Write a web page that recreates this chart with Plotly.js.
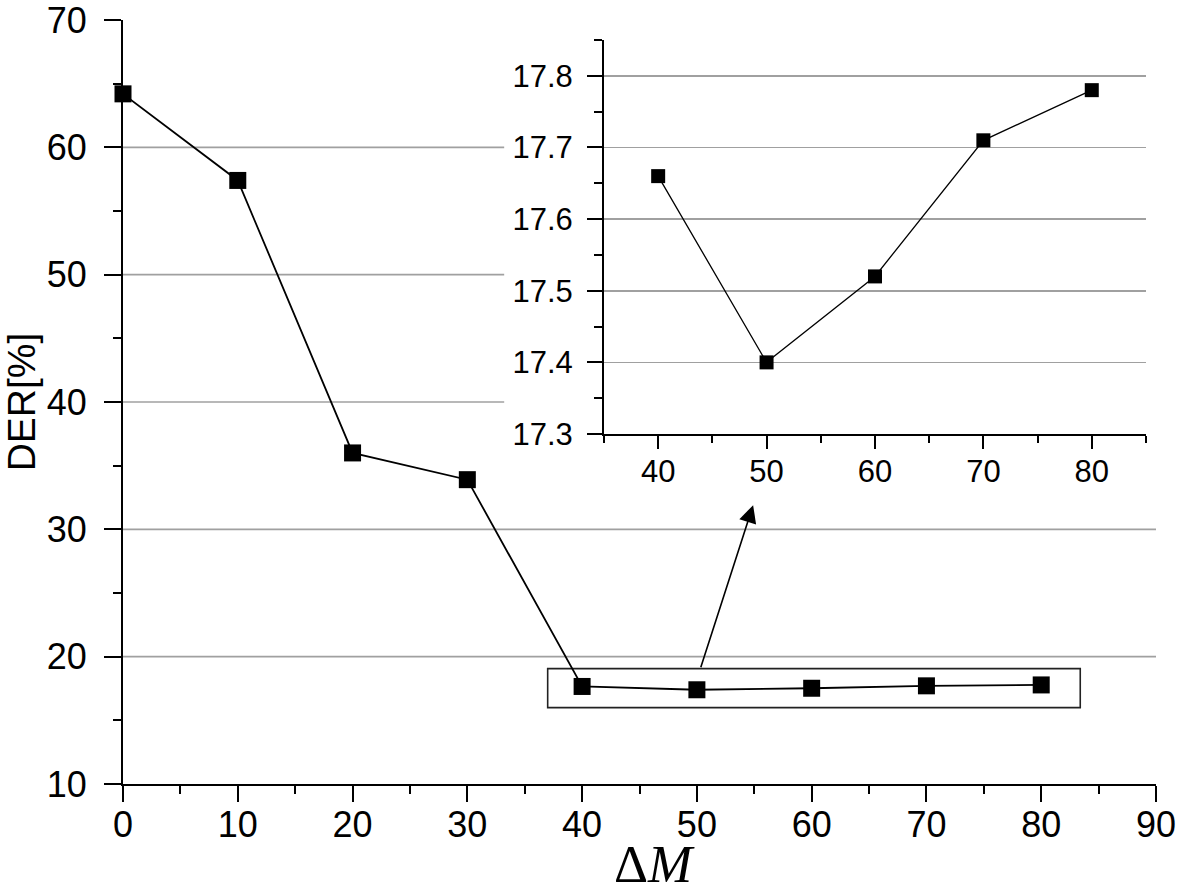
<!DOCTYPE html>
<html>
<head>
<meta charset="utf-8">
<script src="https://cdn.plot.ly/plotly-3.0.1.min.js"></script>
<style>html,body{margin:0;padding:0;background:#fff;}#chart{width:1179px;height:895px;}</style>
</head>
<body>
<div id="chart"></div>
<script>
// Main series
const deltaM = [0, 10, 20, 30, 40, 50, 60, 70, 80];
const derMain = [64.2, 57.4, 36.0, 33.9, 17.66, 17.40, 17.52, 17.71, 17.78];
// Inset (zoom of the boxed region)
const insetDeltaM = [40, 50, 60, 70, 80];
const insetDer = [17.66, 17.40, 17.52, 17.71, 17.78];
// Axis ticks / grid
const mainGridVals = [20, 30, 40, 50, 60];
const mainXTicks = [0, 10, 20, 30, 40, 50, 60, 70, 80, 90];
const mainYTicks = [10, 20, 30, 40, 50, 60, 70];
const insetXTicks = [40, 50, 60, 70, 80];
const insetYTicks = [17.3, 17.4, 17.5, 17.6, 17.7, 17.8];
const xTitle = 'Δ<i>M</i>';
const yTitle = 'DER[%]';

const INSET_X = [0.4656, 0.9903];
const INSET_Y = [0.4581, 0.9738];
const GRID_STOP = 0.369; // where main gridlines get hidden by inset panel

const traces = [
  {
    x: deltaM, y: derMain, type: 'scatter', mode: 'lines+markers',
    line: {color: '#000', width: 1.8},
    marker: {symbol: 'square', size: 17, color: '#000'},
    cliponaxis: false, showlegend: false, hoverinfo: 'skip'
  },
  {
    x: insetDeltaM, y: insetDer, type: 'scatter', mode: 'lines+markers',
    xaxis: 'x2', yaxis: 'y2',
    line: {color: '#000', width: 1.3},
    marker: {symbol: 'square', size: 14, color: '#000'},
    cliponaxis: false, showlegend: false, hoverinfo: 'skip'
  }
];

const shapes = mainGridVals.map(v => ({
  type: 'line', layer: 'below', xref: 'paper', yref: 'y',
  x0: 0, x1: v >= 40 ? GRID_STOP : 1, y0: v, y1: v,
  line: {color: '#a0a0a0', width: 1.6}
}));
// box around the zoomed region
shapes.push({
  type: 'rect', xref: 'x', yref: 'y', x0: 37.0, x1: 83.4, y0: 16.0, y1: 19.06,
  line: {color: '#222', width: 1.6}, fillcolor: 'rgba(0,0,0,0)', layer: 'below'
});

const tickFontMain = {family: 'Liberation Sans, Arial, sans-serif', size: 36, color: '#000'};
const tickFontInset = {family: 'Liberation Sans, Arial, sans-serif', size: 31, color: '#000'};

const layout = {
  width: 1179, height: 895,
  margin: {l: 123, r: 23, t: 20, b: 111},
  paper_bgcolor: '#fff', plot_bgcolor: '#fff',
  showlegend: false,
  xaxis: {
    domain: [0, 1], range: [0, 90], tickvals: mainXTicks, ticktext: mainXTicks.map(String),
    showline: true, linecolor: '#000', linewidth: 2,
    ticks: 'outside', ticklen: 16, tickwidth: 2, tickcolor: '#000',
    minor: {dtick: 5, tick0: 0, ticks: 'outside', ticklen: 8, tickwidth: 2, tickcolor: '#000', showgrid: false},
    showgrid: false, zeroline: false, tickfont: tickFontMain, ticklabelstandoff: -8,
    ticklabeloverflow: 'allow'
  },
  yaxis: {
    domain: [0, 1], range: [10, 70], tickvals: mainYTicks, ticktext: mainYTicks.map(String),
    showline: true, linecolor: '#000', linewidth: 2,
    ticks: 'outside', ticklen: 17, tickwidth: 2, tickcolor: '#000',
    minor: {dtick: 5, tick0: 0, ticks: 'outside', ticklen: 8, tickwidth: 2, tickcolor: '#000', showgrid: false},
    showgrid: false, zeroline: false, tickfont: tickFontMain, ticklabelstandoff: 10,
    ticklabeloverflow: 'allow',
    title: {text: yTitle, font: {family: 'Liberation Sans, Arial, sans-serif', size: 39, color: '#000'}, standoff: 7}
  },
  xaxis2: {
    domain: INSET_X, anchor: 'y2', range: [35, 85], tickvals: insetXTicks, ticktext: insetXTicks.map(String),
    showline: true, linecolor: '#000', linewidth: 2,
    ticks: 'outside', ticklen: 13, tickwidth: 2, tickcolor: '#000',
    minor: {dtick: 5, tick0: 0, ticks: 'outside', ticklen: 7, tickwidth: 2, tickcolor: '#000', showgrid: false},
    showgrid: false, zeroline: false, tickfont: tickFontInset, ticklabelstandoff: -4,
    ticklabeloverflow: 'allow'
  },
  yaxis2: {
    domain: INSET_Y, anchor: 'x2', range: [17.3, 17.85], tickvals: insetYTicks, ticktext: insetYTicks.map(v => v.toFixed(1)),
    showline: true, linecolor: '#000', linewidth: 2,
    ticks: 'outside', ticklen: 15, tickwidth: 2, tickcolor: '#000',
    minor: {dtick: 0.05, tick0: 17.3, ticks: 'outside', ticklen: 8, tickwidth: 2, tickcolor: '#000', showgrid: false},
    showgrid: true, gridcolor: '#a0a0a0', gridwidth: 1.6, zeroline: false, tickfont: tickFontInset, ticklabelstandoff: 8,
    ticklabeloverflow: 'allow'
  },
  shapes: shapes,
  annotations: [
    {
      xref: 'x', yref: 'y', axref: 'x', ayref: 'y',
      x: 54.9, y: 31.9, ax: 50.3, ay: 19.06,
      text: '', showarrow: true, arrowhead: 2, arrowsize: 2.2, arrowwidth: 1.6, arrowcolor: '#000', standoff: 0
    },
    {
      xref: 'paper', yref: 'paper', x: 0.515, y: 0, xanchor: 'center', yanchor: 'bottom',
      yshift: -111, text: xTitle, showarrow: false,
      font: {family: 'Liberation Serif, DejaVu Serif, serif', size: 53, color: '#000'}
    }
  ]
};

Plotly.newPlot('chart', traces, layout, {displayModeBar: false, staticPlot: true});
</script>
</body>
</html>
